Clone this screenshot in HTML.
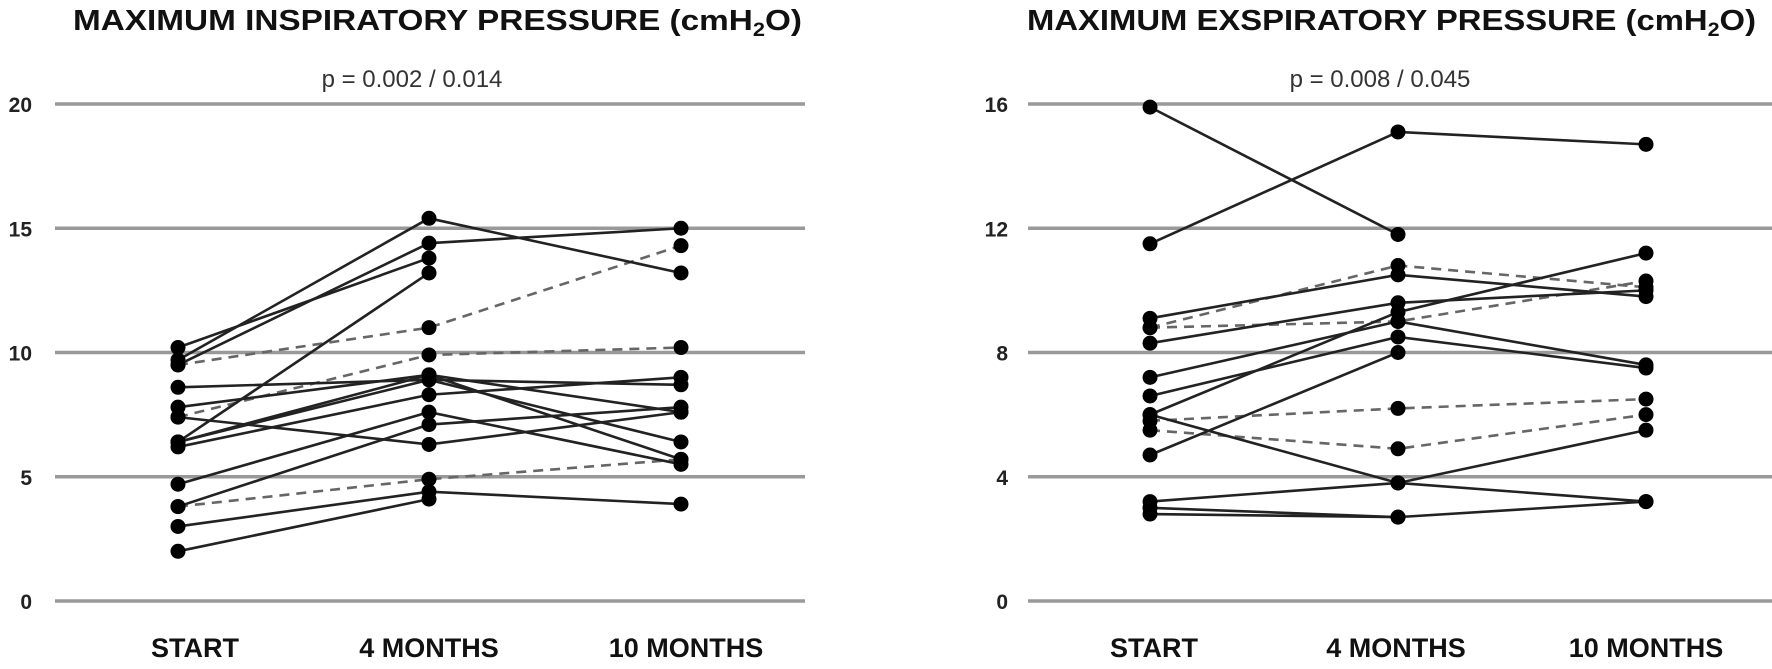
<!DOCTYPE html>
<html><head><meta charset="utf-8"><style>
body{margin:0;background:#fff}
svg text{font-family:"Liberation Sans",Arial,sans-serif}
</style></head><body>
<svg id="c" width="1772" height="664" xmlns="http://www.w3.org/2000/svg">
<text x="73" y="30" font-size="29" font-weight="bold" fill="#111" textLength="729" lengthAdjust="spacingAndGlyphs">MAXIMUM INSPIRATORY PRESSURE (cmH<tspan font-size="19" dy="6">2</tspan><tspan dy="-6">O)</tspan></text>
<text x="1027" y="30" font-size="29" font-weight="bold" fill="#111" textLength="729" lengthAdjust="spacingAndGlyphs">MAXIMUM EXSPIRATORY PRESSURE (cmH<tspan font-size="19" dy="6">2</tspan><tspan dy="-6">O)</tspan></text>
<text x="412" y="87" font-size="24" fill="#333" text-anchor="middle">p = 0.002 / 0.014</text>
<text x="1380" y="87" font-size="24" fill="#333" text-anchor="middle">p = 0.008 / 0.045</text>
</svg>
<script>
const cats=["START","4 MONTHS","10 MONTHS"];
const leftTicks=[0,5,10,15,20];
const rightTicks=[0,4,8,12,16];
const leftSolid=[[9.7,15.4,13.2],[9.5,14.4,15.0],[10.2,13.8,null],[6.4,13.2,null],[8.6,8.9,8.7],[7.8,9.1,7.6],[6.4,8.9,6.4],[6.2,8.3,9.0],[7.4,6.3,7.6],[4.7,7.6,5.5],[3.8,7.1,7.8],[3.0,4.4,3.9],[2.0,4.1,null],[6.4,9.1,5.7]];
const leftDashed=[[9.5,11.0,14.3],[7.4,9.9,10.2],[3.8,4.9,5.7]];
const rightSolid=[[15.9,11.8,null],[11.5,15.1,14.7],[9.1,10.5,9.8],[8.3,9.6,10.0],[7.2,9.0,7.6],[6.6,8.5,7.5],[6.0,9.3,11.2],[6.0,3.8,3.2],[4.7,8.0,null],[3.2,3.8,5.5],[3.0,2.7,3.2],[2.8,2.7,null]];
const rightDashed=[[8.8,10.8,10.1],[8.8,9.0,10.3],[5.8,6.2,6.5],[5.5,4.9,6.0]];
const svg=document.getElementById('c');
const NS="http://www.w3.org/2000/svg";
function mk(t,a){const e=document.createElementNS(NS,t);for(const k in a)e.setAttribute(k,a[k]);svg.appendChild(e);return e;}
function panel(side,xs,lx,gx0,gx1,labelX,ticks,ymax,solid,dashed){
  const y=v=>601-v/ymax*497;
  ticks.forEach(t=>{
    const g=mk('line',{x1:gx0,x2:gx1,y1:y(t),y2:y(t),stroke:'#999','stroke-width':3.5});
    
    
    const tx=mk('text',{x:labelX,y:y(t)+8,'font-size':21,'font-weight':'bold','text-anchor':'end',fill:'#222'});
    tx.textContent=t;
    
    
  });
  cats.forEach((c,i)=>{
    const tx=mk('text',{x:lx[i],y:657,'font-size':27,'font-weight':'bold','text-anchor':'middle',fill:'#111'});
    tx.textContent=c;
    
    
  });
  function draw(arr,dash){
    arr.forEach((s,si)=>{
      const pts=[];s.forEach((v,i)=>{if(v!==null)pts.push([xs[i],y(v)]);});
      const p=mk('polyline',{points:pts.map(q=>q.join(',')).join(' '),fill:'none',stroke:dash?'#666':'#222','stroke-width':2.6,'stroke-dasharray':dash?'10,7':'none'});
      
      
      pts.forEach(q=>{
        const d=mk('circle',{cx:q[0],cy:q[1],r:7.5,fill:'#000'});
        
        
      });
    });
  }
  draw(dashed,true);draw(solid,false);
}
panel('left',[178,429,681],[195,429,686],55,805,32,leftTicks,20,leftSolid,leftDashed);
panel('right',[1150,1398,1646],[1154,1396,1646],1028,1772,1008,rightTicks,16,rightSolid,rightDashed);
</script>
</body></html>
